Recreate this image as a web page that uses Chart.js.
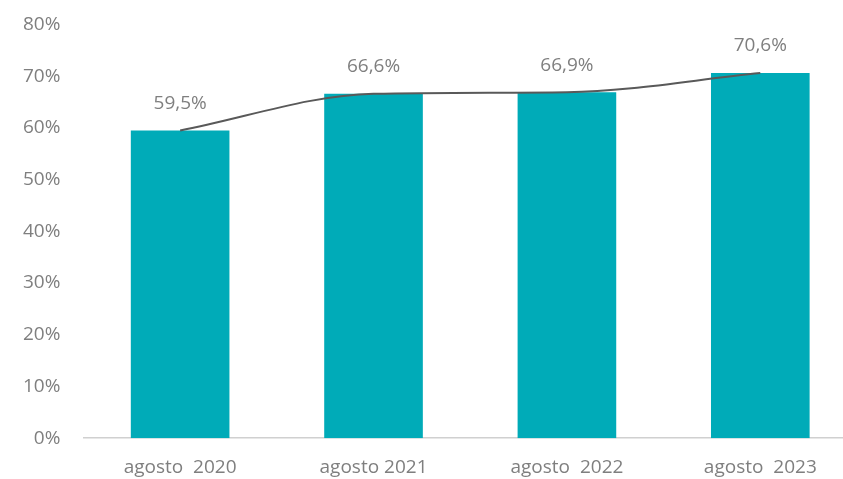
<!DOCTYPE html>
<html>
<head>
<meta charset="utf-8">
<script src="https://cdn.jsdelivr.net/npm/chart.js@4/dist/chart.umd.min.js"></script>
<style>
  html, body { margin:0; padding:0; background:#fff; overflow:hidden; }
  #wrap { width:857px; height:489px; margin-top:-10px; }
</style>
</head>
<body>
<div id="wrap"><canvas id="chart"></canvas></div>
<script>
/* ── Data ── */
const PERIODS = ['agosto  2020','agosto 2021','agosto  2022','agosto  2023'];
const SHARE   = [59.5, 66.6, 66.9, 70.6];
const Y_TICKS = [0,10,20,30,40,50,60,70,80];

const GREY = '#7f7f7f';
const FONT = "'Open Sans', sans-serif";

/* ── Value labels above bars ── */
const valueLabels = {
  id:'valueLabels',
  afterDatasetsDraw(chart) {
    const meta = chart.getDatasetMeta(1);
    const ctx = chart.ctx;
    ctx.save();
    ctx.font = '19px ' + FONT;
    ctx.fillStyle = GREY;
    ctx.textAlign = 'center';
    ctx.textBaseline = 'middle';
    meta.data.forEach((bar,i) => {
      ctx.fillText(SHARE[i].toFixed(1).replace('.',',') + '%', bar.x, bar.y - 27);
    });
    ctx.restore();
  }
};

const ctx = document.getElementById('chart').getContext('2d');
new Chart(ctx, {
  data:{
    labels: PERIODS,
    datasets:[
      { type:'line', data:SHARE, borderColor:'#595959', borderWidth:2, cubicInterpolationMode:'monotone', pointRadius:0, fill:false, order:0 },
      { type:'bar', data:SHARE, backgroundColor:'#00abb8', barPercentage:0.51, categoryPercentage:1, order:1 }
    ]
  },
  options:{
    responsive:true, maintainAspectRatio:false, animation:false,
    layout:{ padding:{ top:0, left:0, right:0, bottom:-18 } },
    plugins:{ legend:{ display:false }, tooltip:{ enabled:false } },
    scales:{
      x:{
        grid:{ display:false, drawTicks:false },
        border:{ display:true, color:'#d0d0d0', width:1.5 },
        ticks:{ color:GREY, font:{ family:FONT, size:19 }, padding:18 }
      },
      y:{
        min:0, max:80,
        afterBuildTicks(axis){ axis.ticks = Y_TICKS.map(v=>({value:v})); },
        grid:{ display:false, drawTicks:false },
        border:{ display:false },
        ticks:{ color:GREY, font:{ family:FONT, size:19 }, padding:23, callback:v=>v+'%' }
      }
    }
  },
  plugins:[valueLabels]
});
</script>
</body>
</html>
